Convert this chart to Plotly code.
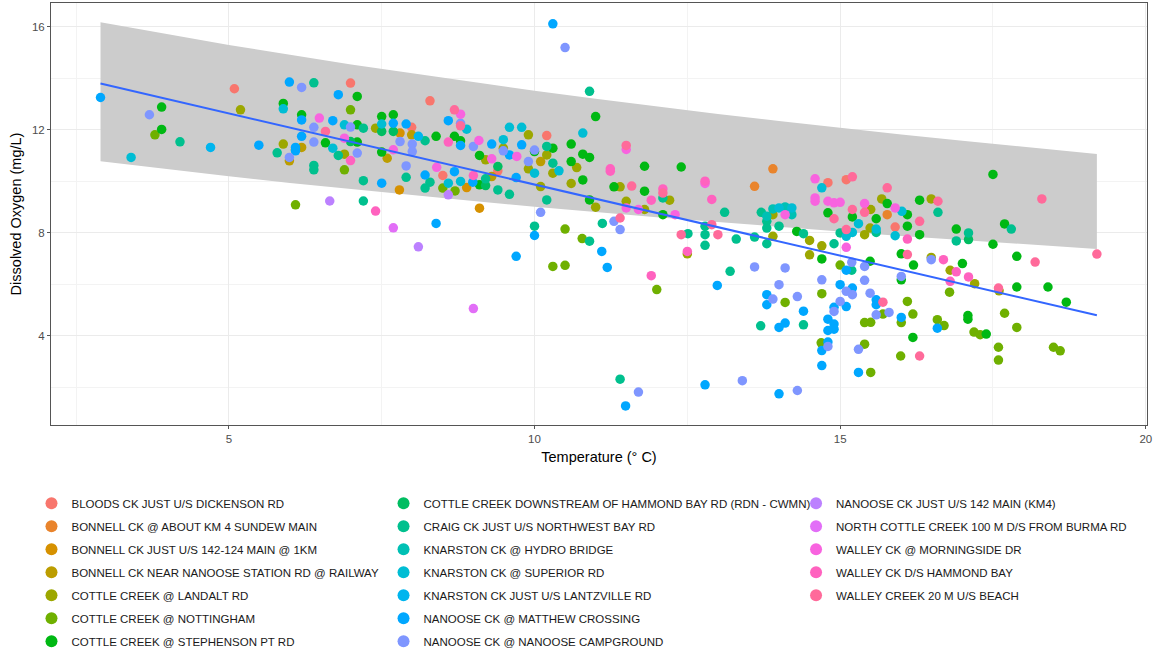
import math
import plotly.graph_objects as go

# ---------------- data ----------------
sites = [
    "BLOODS CK JUST U/S DICKENSON RD",
    "BONNELL CK @ ABOUT KM 4 SUNDEW MAIN",
    "BONNELL CK JUST U/S 142-124 MAIN @ 1KM",
    "BONNELL CK NEAR NANOOSE STATION RD @ RAILWAY",
    "COTTLE CREEK @ LANDALT RD",
    "COTTLE CREEK @ NOTTINGHAM",
    "COTTLE CREEK @ STEPHENSON PT RD",
    "COTTLE CREEK DOWNSTREAM OF HAMMOND BAY RD (RDN - CWMN)",
    "CRAIG CK JUST U/S NORTHWEST BAY RD",
    "KNARSTON CK @ HYDRO BRIDGE",
    "KNARSTON CK @ SUPERIOR RD",
    "KNARSTON CK JUST U/S LANTZVILLE RD",
    "NANOOSE CK @ MATTHEW CROSSING",
    "NANOOSE CK @ NANOOSE CAMPGROUND",
    "NANOOSE CK JUST U/S 142 MAIN (KM4)",
    "NORTH COTTLE CREEK 100 M D/S FROM BURMA RD",
    "WALLEY CK @ MORNINGSIDE DR",
    "WALLEY CK D/S HAMMOND BAY",
    "WALLEY CREEK 20 M U/S BEACH",
]

temp = {
    0: [5.09, 6.99, 7.99, 8.29, 8.50, 9.40, 10.20, 14.80, 15.10, 15.90],
    1: [13.60, 13.90, 15.77],
    2: [7.80, 7.79, 8.89, 9.10],
    3: [5.99, 6.19, 7.99, 7.59, 9.30, 10.10],
    4: [5.19, 5.89, 6.89, 7.40, 9.20, 9.49, 9.90, 9.90, 10.20, 10.30, 10.69, 10.60, 10.10, 11.00,
        11.40, 12.21, 11.50, 11.80, 12.50, 13.90, 13.90, 14.50, 14.50, 14.70, 15.50, 15.49, 15.40,
        15.68, 16.49, 16.80, 17.20, 17.60, 16.49],
    5: [3.79, 6.09, 6.09, 6.99, 6.89, 8.50, 8.70, 10.50, 10.30, 10.50, 10.78, 12.00, 15.00, 14.10,
        14.70, 14.69, 15.70, 15.40, 15.50, 15.40, 15.50, 16.79, 16.10, 16.00, 16.19, 16.59, 16.70,
        17.69, 17.89, 17.19, 17.29, 15.99, 17.59, 17.59, 18.49, 18.60],
    6: [3.90, 3.90, 5.89, 6.19, 6.58, 7.10, 7.10, 7.10, 7.50, 7.69, 7.50, 8.39, 8.69, 8.79, 9.10,
        9.10, 10.00, 10.30, 10.60, 10.60, 10.79, 10.90, 10.79, 11.00, 10.90, 11.80, 12.40, 11.30,
        11.80, 12.10, 14.29, 14.70, 14.80, 15.20, 15.59, 15.77, 15.49, 16.10, 16.30, 16.10, 16.30,
        16.90, 17.69, 17.50, 17.89, 16.00, 16.20, 17.00, 16.00, 17.89, 18.40, 17.09, 17.09, 17.39,
        16.19, 18.70, 17.50],
    7: [7.50, 7.69, 9.20, 9.40, 17.10, 6.99],
    8: [4.20, 5.79, 6.39, 6.39, 6.39, 7.20, 6.79, 7.20, 7.20, 7.90, 8.21, 8.29, 8.21, 9.20, 9.40,
        9.59, 10.20, 10.30, 10.20, 10.90, 10.00, 11.11, 10.90, 12.10, 13.11, 12.79, 12.79, 12.79,
        12.51, 13.30, 13.60, 13.71, 13.80, 13.80, 13.80, 14.00, 14.40, 14.90, 15.00, 15.59, 15.19,
        13.20, 11.40, 13.70, 14.40, 16.60, 16.90, 17.10, 17.80],
    9: [13.80, 13.90, 14.10, 14.21],
    10: [3.40, 5.89, 6.89, 6.70, 7.50, 8.59, 8.79, 8.89, 9.49, 9.59, 9.79, 10.00, 10.40, 10.79,
         14.00, 14.21, 14.70, 15.10, 15.20, 15.30, 16.01, 15.90, 15.59],
    11: [4.70, 8.10],
    12: [2.90, 5.49, 5.99, 6.19, 6.19, 6.09, 6.09, 6.79, 6.70, 7.69, 7.90, 7.50, 8.21, 8.69, 8.59,
         8.79, 9.30, 9.59, 9.70, 9.79, 10.30, 8.39, 9.70, 10.00, 11.10, 11.19, 12.99, 15.10, 15.20,
         15.00, 11.49, 12.79, 14.00, 13.80, 13.80, 14.00, 14.10, 14.40, 14.90, 15.10, 14.80, 14.90,
         14.90, 14.80, 14.80, 14.70, 14.70, 15.59, 15.59, 15.30, 16.00, 16.59, 8.99],
    13: [3.70, 6.19, 6.39, 5.99, 6.39, 6.99, 7.10, 7.80, 8.00, 8.00, 7.90, 8.79, 9.00, 9.49, 9.90,
         10.00, 10.10, 10.50, 11.30, 11.40, 11.70, 13.40, 14.30, 13.60, 14.10, 14.00, 14.70, 15.19,
         15.40, 15.40, 13.90, 14.30, 14.90, 15.00, 15.10, 15.20, 14.80, 15.49, 15.59, 15.30, 15.80,
         16.49, 16.00],
    14: [6.65, 8.10, 8.59],
    15: [7.69, 9.00],
    16: [6.48, 6.89, 7.69, 8.40, 8.79, 9.09, 9.30, 9.71, 11.50, 11.50, 11.70, 12.30, 12.79, 14.10,
         14.59, 14.59, 14.59, 14.80, 14.90, 15.00, 15.10, 15.40, 15.90],
    17: [6.99, 7.40, 8.59, 9.00, 11.24, 11.24, 12.10, 11.91, 12.79, 12.90, 12.50, 11.91, 16.10,
         16.69, 16.90, 17.10, 16.80],
    18: [6.58, 8.69, 8.79, 11.50, 11.59, 12.10, 11.40, 12.90, 12.40, 13.00, 14.90, 15.10, 15.20,
         15.20, 15.40, 15.77, 15.70, 16.60, 16.30, 16.10, 17.59, 18.19, 19.20, 18.30, 16.30],
}

oxygen = {
    0: [13.60, 13.82, 12.10, 13.13, 10.23, 10.41, 11.78, 9.95, 10.07, 8.23],
    1: [9.81, 10.49, 8.71],
    2: [11.88, 9.67, 9.76, 8.96],
    3: [10.80, 11.32, 11.81, 10.90, 10.19, 10.77],
    4: [12.78, 11.45, 11.06, 12.07, 10.84, 11.29, 11.81, 10.49, 11.03, 10.32, 10.54, 9.92, 9.80, 9.00,
        9.79, 9.27, 9.23, 8.91, 7.19, 8.71, 7.87, 7.71, 7.15, 7.50, 8.91, 8.19, 7.93,
        9.32, 9.32, 6.55, 6.03, 5.75, 7.05],
    5: [11.81, 11.23, 9.09, 12.78, 10.45, 9.74, 9.63, 8.15, 6.70, 6.74, 7.78, 5.80, 6.75, 5.30,
        5.64, 3.73, 4.85, 4.52, 4.53, 3.68, 2.58, 5.70, 5.34, 4.52, 4.85, 4.63, 4.40,
        4.88, 4.33, 4.15, 4.05, 3.22, 3.56, 3.06, 3.56, 3.42],
    6: [12.89, 12.02, 13.03, 12.59, 11.50, 13.30, 12.20, 11.53, 12.52, 12.59, 11.14, 11.75, 11.75, 11.58, 11.01,
        9.87, 11.16, 11.29, 11.45, 10.77, 11.06, 10.93, 10.06, 12.52, 9.28, 10.59, 10.56, 9.79,
        9.62, 8.71, 8.06, 6.99, 8.78, 8.62, 8.55, 9.14, 6.90, 8.71, 9.27, 8.26, 7.93,
        8.15, 8.35, 7.56, 7.09, 7.19, 6.75, 6.81, 6.18, 5.90, 5.90, 4.79, 4.65, 4.07,
        3.94, 5.31, 10.27],
    7: [11.94, 11.94, 9.84, 10.58, 7.74, 11.55],
    8: [11.54, 11.11, 13.83, 10.62, 10.45, 12.07, 11.01, 10.03, 9.24, 10.16, 11.58, 9.97, 9.74, 10.10, 9.67,
        9.50, 11.36, 10.71, 9.28, 13.50, 8.26, 8.37, 7.68, 9.36, 8.80, 8.26, 7.93, 7.52,
        7.97, 7.76, 7.84, 8.80, 8.45, 8.19, 7.58, 8.26, 7.97, 7.58, 8.00, 8.02, 6.55,
        6.51, 2.32, 4.39, 4.43, 8.80, 7.69, 8.00, 8.15],
    9: [8.65, 8.93, 9.01, 8.71],
    10: [10.93, 12.82, 12.20, 11.29, 12.23, 9.93, 10.00, 12.03, 11.62, 12.10, 12.10, 10.32, 10.41, 11.88,
         8.97, 8.97, 9.75, 7.87, 8.02, 8.36, 8.84, 7.89, 8.15],
    11: [11.32, 11.75],
    12: [13.26, 11.41, 13.86, 12.39, 11.75, 11.32, 11.19, 13.37, 12.36, 12.26, 12.23, 9.93, 10.25, 10.38, 12.36,
         11.40, 11.45, 11.03, 10.15, 11.42, 16.12, 8.37, 7.09, 7.90, 7.28, 6.66, 5.96, 6.55, 5.86,
         5.99, 1.28, 2.10, 1.75, 5.60, 5.21, 4.33, 4.50, 4.96, 5.11, 5.14, 4.65, 4.46,
         4.26, 4.21, 3.76, 3.43, 2.85, 5.40, 5.21, 2.58, 4.72, 4.30, 9.97],
    13: [12.59, 13.65, 12.10, 10.93, 11.53, 12.11, 11.10, 11.55, 11.45, 11.16, 10.60, 12.26, 11.36, 11.19, 10.77,
         11.22, 8.80, 15.20, 8.45, 8.13, 1.82, 2.26, 1.88, 6.68, 6.64, 5.99, 6.18, 6.86,
         6.70, 6.16, 5.43, 5.53, 4.95, 5.34, 5.73, 5.60, 3.59, 5.66, 4.82, 3.48, 4.91,
         6.96, 6.31],
    14: [9.24, 7.46, 9.48],
    15: [8.20, 5.06],
    16: [12.46, 11.68, 11.23, 10.55, 12.61, 11.59, 10.88, 10.97, 11.24, 8.97, 8.91, 8.71, 9.92, 8.71,
         10.10, 9.36, 9.23, 9.23, 9.17, 9.19, 7.44, 9.14, 8.97],
    17: [10.81, 8.85, 11.53, 10.23, 10.49, 10.40, 9.71, 9.27, 10.01, 9.30, 7.28, 6.34, 7.76,
         6.96, 6.49, 6.29, 6.12],
    18: [11.94, 12.78, 12.16, 11.40, 9.82, 9.55, 8.58, 8.32, 7.93, 7.93, 8.55, 8.13, 10.18,
         8.91, 8.80, 9.75, 5.31, 9.23, 8.45, 7.16, 5.86, 6.87, 7.18, 9.32, 3.22],
}

# grey band
band_temp = [2.9, 4, 5, 6, 7, 8, 9, 10, 11, 12, 13, 14, 15, 16, 17, 18, 19, 19.2]
band_upper = [16.18, 15.71, 15.30, 14.92, 14.54, 14.20, 13.86, 13.52, 13.21, 12.91, 12.62,
              12.35, 12.08, 11.82, 11.58, 11.34, 11.11, 11.07]
band_lower = [10.78, 10.47, 10.20, 9.94, 9.70, 9.46, 9.24, 9.02, 8.81, 8.61, 8.42, 8.23,
              8.06, 7.88, 7.72, 7.56, 7.41, 7.38]

# fitted line end points
fit_temp = [2.9, 19.2]
fit_oxygen = [13.80, 4.80]

x_ticks = [5, 10, 15, 20]
y_ticks = [4, 8, 12, 16]


# ---------------- colours (ggplot hue palette) ----------------
def hcl_to_hex(h, c=100.0, l=65.0):
    Xn, Yn, Zn = 95.047, 100.0, 108.883
    hr = math.radians(h)
    U, V = c * math.cos(hr), c * math.sin(hr)
    L = l
    Y = Yn * (((L + 16) / 116) ** 3 if L > 8 else L / 903.3)
    un = 4 * Xn / (Xn + 15 * Yn + 3 * Zn)
    vn = 9 * Yn / (Xn + 15 * Yn + 3 * Zn)
    u = U / (13 * L) + un
    v = V / (13 * L) + vn
    X = 9.0 * Y * u / (4 * v)
    Z = -X / 3 - 5 * Y + 3 * Y / v
    X, Y, Z = X / 100, Y / 100, Z / 100
    r = 3.240479 * X - 1.537150 * Y - 0.498535 * Z
    g = -0.969256 * X + 1.875992 * Y + 0.041556 * Z
    b = 0.055648 * X - 0.204043 * Y + 1.057311 * Z

    def gam(t):
        t = 1.055 * (t ** (1 / 2.4)) - 0.055 if t > 0.0031308 else 12.92 * t
        return max(0, min(255, int(round(255 * t))))

    return "#%02X%02X%02X" % (gam(r), gam(g), gam(b))


n = len(sites)
colors = [hcl_to_hex(15 + 360 * i / n) for i in range(n)]

FONT = "Liberation Sans, Arial, sans-serif"

fig = go.Figure()

# band
fig.add_trace(go.Scatter(x=band_temp, y=band_upper, mode="lines", line=dict(width=0),
                         showlegend=False, hoverinfo="skip"))
fig.add_trace(go.Scatter(x=band_temp, y=band_lower, mode="lines", line=dict(width=0),
                         fill="tonexty", fillcolor="#CCCCCC", showlegend=False, hoverinfo="skip"))

for i, name in enumerate(sites):
    leg = "legend" if i < 7 else ("legend2" if i < 14 else "legend3")
    fig.add_trace(go.Scatter(
        x=temp[i], y=oxygen[i], mode="markers", name=name, legendgroup=name, legend=leg,
        marker=dict(color=colors[i], size=9.5, line=dict(width=0)),
    ))

fig.add_trace(go.Scatter(x=fit_temp, y=fit_oxygen, mode="lines",
                         line=dict(color="#3366FF", width=2), showlegend=False, hoverinfo="skip"))

axis_common = dict(
    showgrid=True, gridcolor="#EBEBEB", gridwidth=1,
    zeroline=False, showline=True, mirror=True, linecolor="#555555", linewidth=1,
    ticks="outside", ticklen=3, tickcolor="#555555", tickwidth=1,
    tickfont=dict(family=FONT, size=11.5, color="#4D4D4D"),
)

fig.update_xaxes(
    range=[2.09, 20.02], tickvals=x_ticks, **axis_common,
    minor=dict(tick0=2.5, dtick=5, showgrid=True, gridcolor="#F3F3F3", gridwidth=1, ticks=""),
    title=dict(text="Temperature (° C)", font=dict(family=FONT, size=14.5, color="#000000"), standoff=8),
)
fig.update_yaxes(
    range=[0.54, 16.93], tickvals=y_ticks, **axis_common,
    minor=dict(tick0=2, dtick=4, showgrid=True, gridcolor="#F3F3F3", gridwidth=1, ticks=""),
    title=dict(text="Dissolved Oxygen (mg/L)", font=dict(family=FONT, size=14.5, color="#000000"), standoff=6),
)

legend_common = dict(
    orientation="v", yanchor="top", xanchor="left", bgcolor="rgba(0,0,0,0)",
    font=dict(family=FONT, size=11.5, color="#1A1A1A"), tracegroupgap=4,
    itemsizing="constant", title=dict(text=""),
)
fig.update_layout(
    width=1157, height=651,
    margin=dict(l=51, r=10, t=3, b=226, autoexpand=False),
    paper_bgcolor="white", plot_bgcolor="white",
    font=dict(family=FONT),
    legend=dict(x=-0.0178, y=-0.151, **legend_common),
    legend2=dict(x=0.3034, y=-0.151, **legend_common),
    legend3=dict(x=0.6798, y=-0.151, **legend_common),
)

fig.write_html(
    "out.html",
    config={"displayModeBar": False},
    post_script="document.body.style.margin='0';document.body.style.overflow='hidden';",
)
